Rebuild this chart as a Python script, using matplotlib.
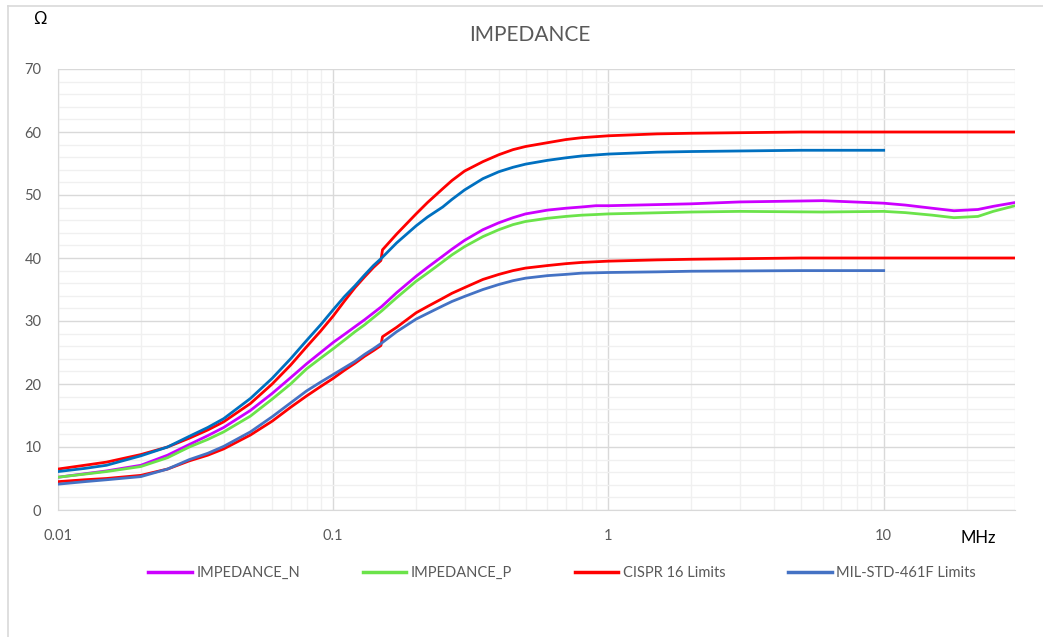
#!/usr/bin/env python3

import numpy as np
import matplotlib.pyplot as plt
from matplotlib.ticker import FixedLocator, NullFormatter, MultipleLocator
from matplotlib.lines import Line2D

# frequencies in MHz, impedance in ohm
freq_n = [0.01, 0.015, 0.02, 0.025, 0.03, 0.035, 0.04, 0.05, 0.06, 0.07, 0.08, 0.09,
          0.1, 0.11, 0.12, 0.13, 0.15, 0.17, 0.2, 0.22, 0.25, 0.27, 0.3, 0.35, 0.4, 0.45,
          0.5, 0.6, 0.7, 0.8, 0.9, 1, 2, 3, 6, 10, 12, 15, 18, 22, 25, 30]
imp_n = [5.2, 6.2, 7.1, 8.7, 10.4, 11.8, 13.1, 15.8, 18.5, 21.0, 23.2, 25.0,
         26.6, 27.9, 29.1, 30.2, 32.3, 34.5, 37.1, 38.5, 40.3, 41.4, 42.8, 44.5, 45.6, 46.4,
         47.0, 47.6, 47.9, 48.1, 48.3, 48.3, 48.6, 48.9, 49.1, 48.7, 48.4, 47.9, 47.5, 47.7, 48.2, 48.8]
imp_p = [5.2, 6.1, 6.9, 8.3, 10.0, 11.2, 12.4, 14.9, 17.6, 20.0, 22.4, 24.1,
         25.6, 27.0, 28.3, 29.4, 31.6, 33.7, 36.3, 37.6, 39.4, 40.5, 41.8, 43.4, 44.5, 45.3,
         45.8, 46.3, 46.6, 46.8, 46.9, 47.0, 47.3, 47.4, 47.3, 47.4, 47.2, 46.8, 46.4, 46.6, 47.4, 48.3]

freq_cispr = [0.01, 0.0125, 0.015, 0.02, 0.025, 0.03, 0.035, 0.04, 0.05, 0.06, 0.07, 0.08, 0.09,
              0.1, 0.11, 0.12, 0.13, 0.14, 0.149, 0.151, 0.17, 0.2, 0.22, 0.25, 0.27, 0.3, 0.35,
              0.4, 0.45, 0.5, 0.6, 0.7, 0.8, 1, 1.5, 2, 5, 10, 30]
cispr_hi = [6.5, 7.1, 7.6, 8.8, 10.0, 11.4, 12.7, 14.0, 16.9, 20.0, 23.0, 25.9, 28.4,
            30.8, 33.2, 35.3, 37.0, 38.5, 39.6, 41.3, 43.8, 47.0, 48.8, 51.0, 52.3, 53.8, 55.3,
            56.4, 57.2, 57.7, 58.3, 58.8, 59.1, 59.4, 59.7, 59.8, 60.0, 60.0, 60.0]
cispr_lo = [4.5, 4.8, 5.0, 5.5, 6.5, 7.8, 8.7, 9.7, 11.9, 14.1, 16.3, 18.1, 19.6,
            20.9, 22.2, 23.3, 24.4, 25.3, 26.1, 27.5, 29.0, 31.3, 32.3, 33.6, 34.4, 35.3, 36.6,
            37.4, 38.0, 38.4, 38.8, 39.1, 39.3, 39.5, 39.7, 39.8, 40.0, 40.0, 40.0]

freq_mil = [0.01, 0.0125, 0.015, 0.02, 0.025, 0.03, 0.035, 0.04, 0.05, 0.06, 0.07, 0.08, 0.09,
            0.1, 0.11, 0.12, 0.13, 0.14, 0.15, 0.17, 0.2, 0.22, 0.25, 0.27, 0.3, 0.35, 0.4,
            0.45, 0.5, 0.6, 0.7, 0.8, 1, 1.5, 2, 5, 10]
mil_hi = [6.1, 6.6, 7.1, 8.6, 10.0, 11.7, 13.1, 14.5, 17.7, 20.9, 24.0, 26.9, 29.4,
          31.8, 33.9, 35.6, 37.3, 38.8, 40.0, 42.4, 45.1, 46.5, 48.1, 49.3, 50.8, 52.6, 53.7,
          54.4, 54.9, 55.5, 55.9, 56.2, 56.5, 56.8, 56.9, 57.1, 57.1]
mil_lo = [4.1, 4.5, 4.8, 5.3, 6.5, 8.0, 9.0, 10.1, 12.4, 14.8, 17.0, 18.9, 20.3,
          21.5, 22.6, 23.6, 24.7, 25.6, 26.5, 28.3, 30.3, 31.2, 32.4, 33.1, 33.9, 35.0, 35.8,
          36.4, 36.8, 37.2, 37.4, 37.6, 37.7, 37.8, 37.9, 38.0, 38.0]

labels = ['IMPEDANCE_N', 'IMPEDANCE_P', 'CISPR 16 Limits', 'MIL-STD-461F Limits']
colors = ['#CC00FF', '#6BE34A', '#FF0000', '#4472C4']
mil_hi_color = '#0070C0'

plt.rcParams['font.family'] = ['Lato', 'DejaVu Sans']

fig = plt.figure(figsize=(10.43, 6.37), dpi=100)
ax = fig.add_axes([58 / 1043, 1 - 510 / 637, (1015 - 58) / 1043, (510 - 69) / 637])

lw = 2.0
ax.plot(freq_n, imp_n, color=colors[0], lw=lw, zorder=3)
ax.plot(freq_n, imp_p, color=colors[1], lw=lw, zorder=3)
ax.plot(freq_cispr, cispr_hi, color=colors[2], lw=lw, zorder=3)
ax.plot(freq_cispr, cispr_lo, color=colors[2], lw=lw, zorder=3)
ax.plot(freq_mil, mil_hi, color=mil_hi_color, lw=lw, zorder=4)
ax.plot(freq_mil, mil_lo, color=colors[3], lw=lw, zorder=4)

ax.set_xscale('log')
ax.set_xlim(0.01, 30)
ax.set_ylim(0, 70)

ax.xaxis.set_major_locator(FixedLocator([0.01, 0.1, 1, 10]))
ax.set_xticklabels(['0.01', '0.1', '1', '10'])
minors = [m * 10.0 ** e for e in range(-2, 2) for m in range(2, 10)]
ax.xaxis.set_minor_locator(FixedLocator([m for m in minors if m <= 30]))
ax.xaxis.set_minor_formatter(NullFormatter())
ax.yaxis.set_major_locator(MultipleLocator(10))
ax.yaxis.set_minor_locator(MultipleLocator(2))

ax.grid(which='major', color='#D9D9D9', lw=1.0)
ax.grid(which='minor', color='#F0F0F0', lw=1.0)
ax.set_axisbelow(True)
ax.tick_params(which='both', length=0, colors='#595959', labelsize=10.5)
ax.tick_params(axis='x', pad=14)
ax.tick_params(axis='y', pad=12)
for s in ['top', 'right']:
    ax.spines[s].set_visible(False)
ax.spines['left'].set_color('#D9D9D9')
ax.spines['bottom'].set_color('#D9D9D9')

fig.text(530 / 1043, 1 - 35 / 637, 'IMPEDANCE', ha='center', va='center',
         fontsize=15, color='#595959')
fig.text(40 / 1043, 1 - 19 / 637, 'Ω', ha='center', va='center', fontsize=12, color='black')
fig.text(978 / 1043, 1 - 538 / 637, 'MHz', ha='center', va='center', fontsize=12, color='black')

handles = [Line2D([], [], color=c, lw=2.5) for c in colors]
fig.legend(handles, labels, loc='center', bbox_to_anchor=(562 / 1043, 1 - 573 / 637),
           ncol=4, frameon=False, fontsize=10.5, labelcolor='#595959',
           handlelength=3.0, handletextpad=0.3, columnspacing=4.3)

# chart area border
fig.add_artist(Line2D([8 / 1043, 8 / 1043], [0, 1 - 6 / 637], color='#D9D9D9', lw=1.2))
fig.add_artist(Line2D([8 / 1043, 1], [1 - 6 / 637, 1 - 6 / 637], color='#D9D9D9', lw=1.2))

plt.savefig('out.png', dpi=100)
